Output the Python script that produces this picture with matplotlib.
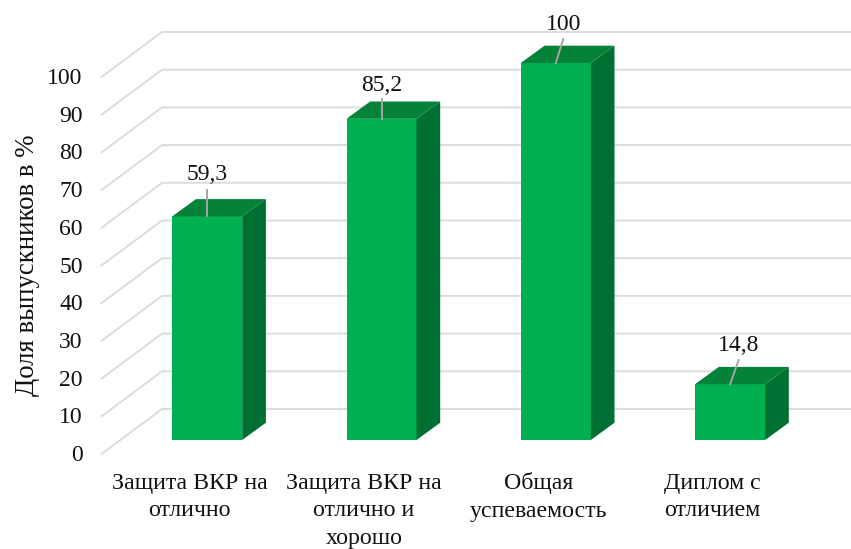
import matplotlib
matplotlib.use('Agg')
from matplotlib import pyplot as plt
import numpy as np

categories = ['Защита ВКР на\nотлично', 'Защита ВКР на\nотлично и\nхорошо', 'Общая\nуспеваемость', 'Диплом с\nотличием']
values = [59.3, 85.2, 100, 14.8]
value_labels = ['59,3', '85,2', '100', '14,8']
y_ticks = [0, 10, 20, 30, 40, 50, 60, 70, 80, 90, 100]

plt.rcParams['font.family'] = ['Liberation Serif', 'DejaVu Serif']

W, H = 851, 549
fig = plt.figure(figsize=(W / 100, H / 100), dpi=100)
ax = fig.add_axes([0, 0, 1, 1])
ax.axis('off')

# one category = 174.3 px, one percent = 3.77 px
ax.set_xlim(-207.2 / 174.3, (W - 207.2) / 174.3)
ax.set_ylim(-(H - 440) / 3.77, 440 / 3.77)

bar_width = 70 / 174.3
depth_x, depth_y = 23.7 / 174.3, 17.3 / 3.77

# floor/wall offsets of the gridlines
grid_front_x, grid_back_x = -105.7 / 174.3, -45.2 / 174.3
grid_front_y, grid_back_y = -14 / 3.77, 31 / 3.77
grid_c = '#dcdcdc'

for t in y_ticks:
    ax.plot([grid_front_x, grid_back_x, ax.get_xlim()[1]],
            [t + grid_front_y, t + grid_back_y, t + grid_back_y],
            color=grid_c, lw=1.4, solid_joinstyle='miter', zorder=1)
    ax.text(-124.5 / 174.3, t + grid_front_y - 0.4, str(t), ha='right', va='center',
            fontsize=17, color='#111111')

x = np.arange(len(values))
ax.bar(x, values, width=bar_width, color='#00b050', zorder=3)
for i, v in zip(x, values):
    l, r = i - bar_width / 2, i + bar_width / 2
    ax.fill([r, r + depth_x, r + depth_x, r],
            [0, depth_y, v + depth_y, v], color='#006f32', lw=0, zorder=3)
    ax.fill([l, l + depth_x, r + depth_x, r],
            [v, v + depth_y, v + depth_y, v], color='#038238', lw=0, zorder=3)

# leader lines and value labels, offsets in px from the bar top
leader_dx = [0, 0, 7.5, 8.5]
leader_dy = [26, 20, 24, 24]
label_dx = [0, 0, 7.5, 8.5]
label_dy = [42, 33, 38, 39]
for i, v in enumerate(values):
    ax.plot([i, i + leader_dx[i] / 174.3], [v, v + leader_dy[i] / 3.77],
            color='#a6a6a6', lw=1.4, zorder=4)
    ax.text(i + label_dx[i] / 174.3, v + label_dy[i] / 3.77, value_labels[i],
            ha='center', va='center', fontsize=17, color='#111111', zorder=5)

for i, name in enumerate(categories):
    ax.text(i - 17.5 / 174.3, -32.5 / 3.77, name, ha='center', va='top', fontsize=17.2,
            color='#111111', linespacing=1.42)

ax.text(-179.5 / 174.3, (440 - 265) / 3.77, 'Доля выпускников в %', rotation=90,
        ha='center', va='center', fontsize=19.3, color='#111111')

fig.savefig('out.png', dpi=100)
